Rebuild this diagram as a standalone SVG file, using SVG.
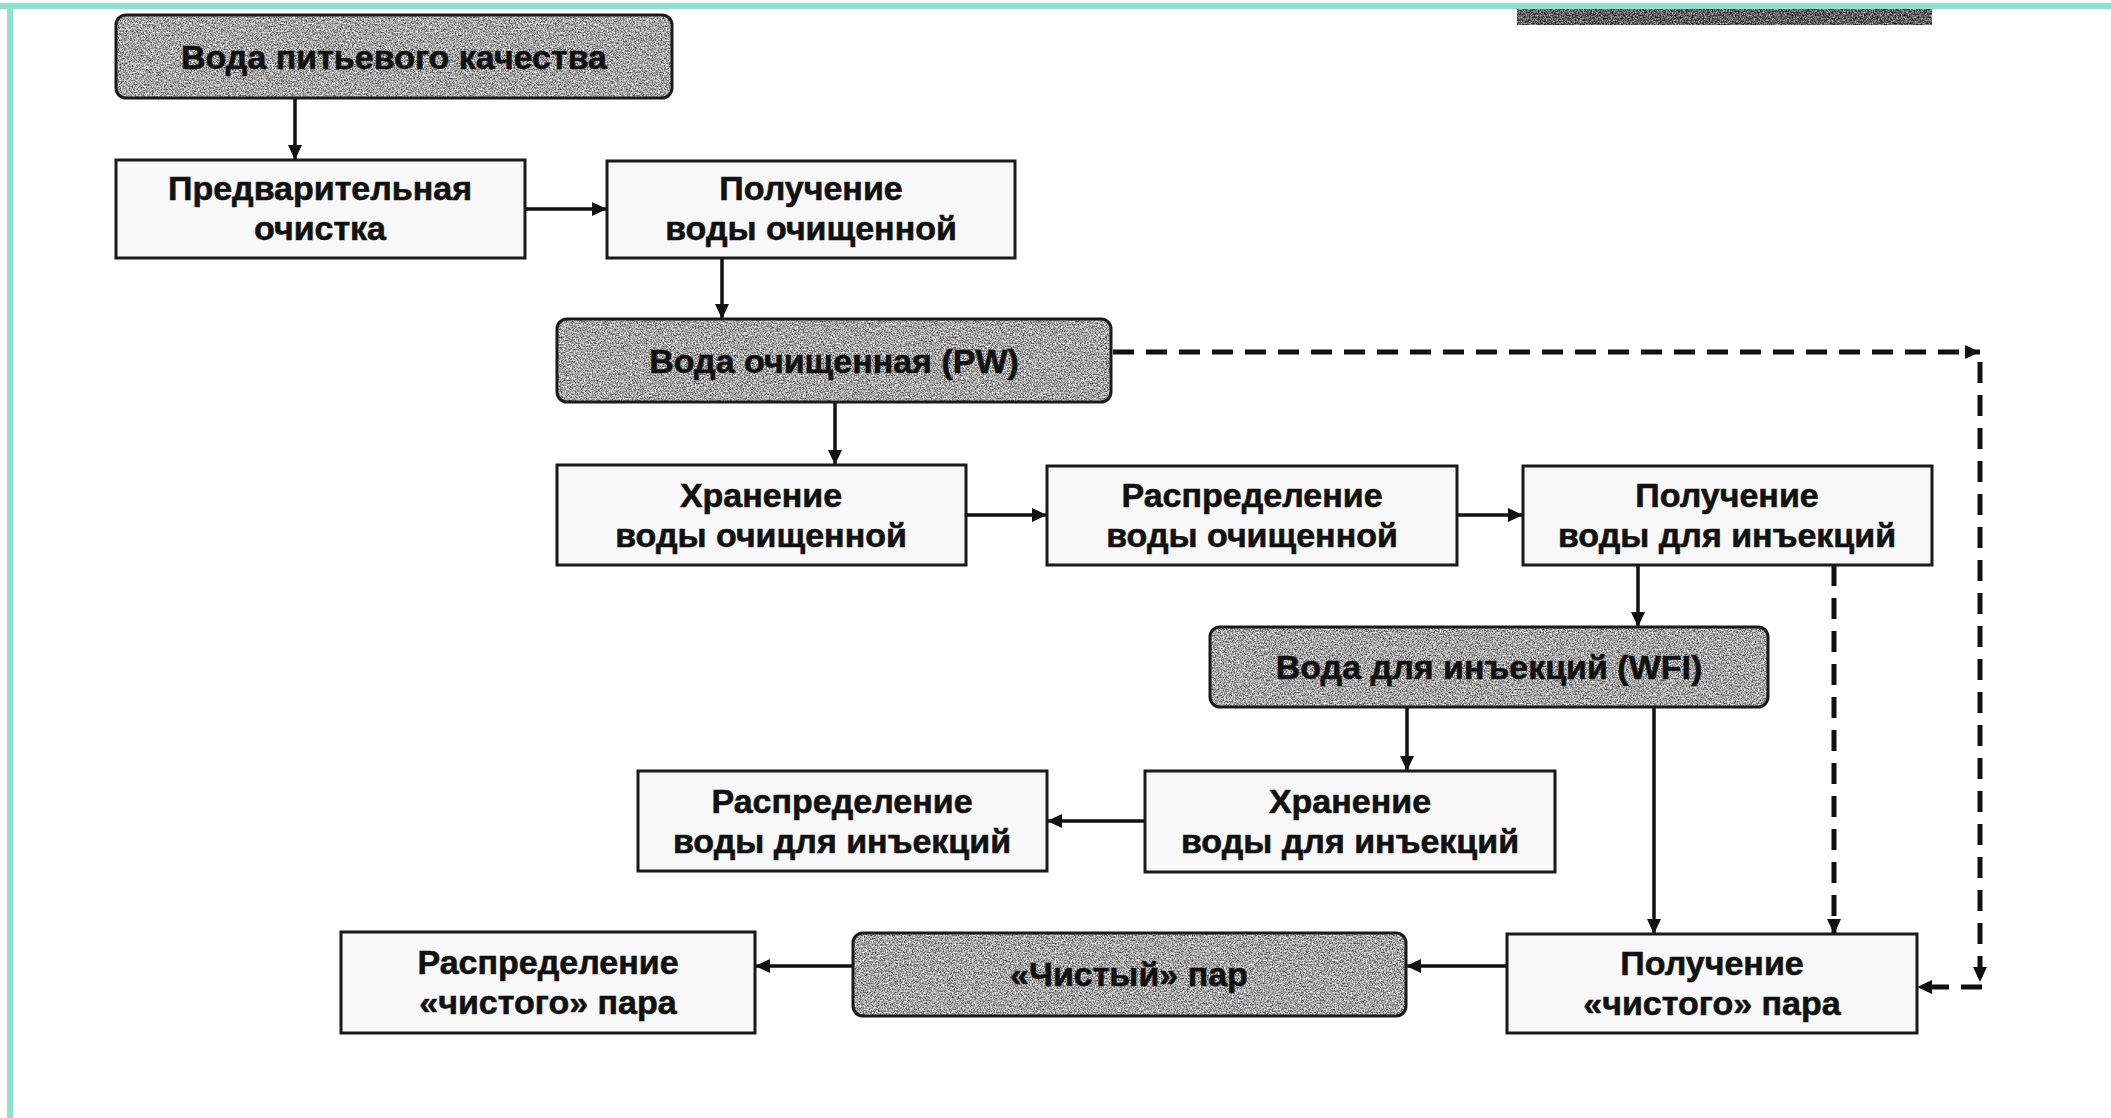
<svg xmlns="http://www.w3.org/2000/svg" width="2111" height="1118" viewBox="0 0 2111 1118">
<style>
.box{fill:#f8f8f8;stroke:#1a1a1a;stroke-width:3}
.shade{fill:#a6a6a6;stroke:none}
.shadeb{fill:none;stroke:#1a1a1a;stroke-width:3}
.t{font-family:"Liberation Sans",Arial,sans-serif;font-weight:bold;font-size:34px;fill:#111;stroke:#111;stroke-width:0.6;text-anchor:middle}
.c{fill:none;stroke:#111;stroke-width:3.5}
.d{fill:none;stroke:#111;stroke-width:5;stroke-dasharray:21 12}
</style>
<defs>
<filter id="grain" x="0" y="0" width="1" height="1" color-interpolation-filters="sRGB">
<feTurbulence type="fractalNoise" baseFrequency="0.65" numOctaves="3" seed="7" result="n"/>
<feColorMatrix in="n" type="matrix" values="1 0 0 0 0  1 0 0 0 0  1 0 0 0 0  0 0 0 0 1" result="g"/>
<feComposite in="SourceGraphic" in2="g" operator="arithmetic" k1="0" k2="1" k3="1.3" k4="-0.65" result="m"/>
<feComposite in="m" in2="SourceGraphic" operator="in"/>
</filter>
<marker id="ah" markerUnits="userSpaceOnUse" markerWidth="16" markerHeight="14" refX="15" refY="7" orient="auto">
<path d="M0,0 L15,7 L0,14 z" fill="#111"/>
</marker>
</defs>
<rect width="2111" height="1118" fill="#ffffff"/>
<rect x="0" y="3" width="2111" height="6" fill="#8fe0cc"/>
<rect x="7" y="3" width="6" height="1115" fill="#8fe0cc"/>
<rect x="1517" y="9" width="415" height="16" fill="#5e5e5e" filter="url(#grain)"/>

<g id="connectors">
<path class="c" d="M295,98 V160" marker-end="url(#ah)"/>
<path class="c" d="M525,209 H607" marker-end="url(#ah)"/>
<path class="c" d="M722,258 V319" marker-end="url(#ah)"/>
<path class="c" d="M835,402 V465" marker-end="url(#ah)"/>
<path class="c" d="M966,515 H1047" marker-end="url(#ah)"/>
<path class="c" d="M1457,515 H1523" marker-end="url(#ah)"/>
<path class="c" d="M1638,565 V627" marker-end="url(#ah)"/>
<path class="c" d="M1407,707 V771" marker-end="url(#ah)"/>
<path class="c" d="M1145,821 H1047" marker-end="url(#ah)"/>
<path class="c" d="M1654,707 V934" marker-end="url(#ah)"/>
<path class="c" d="M1507,966 H1406" marker-end="url(#ah)"/>
<path class="c" d="M853,966 H755" marker-end="url(#ah)"/>
<path class="d" d="M1113,352 H1980" marker-end="url(#ah)"/>
<path class="d" d="M1980,362 V982" marker-end="url(#ah)"/>
<path class="d" d="M1982,987 H1917" marker-end="url(#ah)"/>
<path class="d" d="M1834,565 V934" marker-end="url(#ah)"/>
</g>

<g id="n1">
<rect class="shade" x="116" y="15" width="556" height="83" rx="10" filter="url(#grain)"/>
<rect class="shadeb" x="116" y="15" width="556" height="83" rx="10"/>
<text class="t" x="394" y="69">Вода питьевого качества</text>
</g>
<g id="n2">
<rect class="box" x="116" y="160" width="409" height="98"/>
<text class="t" x="320" y="200">Предварительная</text>
<text class="t" x="320" y="240">очистка</text>
</g>
<g id="n3">
<rect class="box" x="607" y="161" width="408" height="97"/>
<text class="t" x="811" y="200">Получение</text>
<text class="t" x="811" y="240">воды очищенной</text>
</g>
<g id="n4">
<rect class="shade" x="557" y="319" width="554" height="83" rx="10" filter="url(#grain)"/>
<rect class="shadeb" x="557" y="319" width="554" height="83" rx="10"/>
<text class="t" x="834" y="373">Вода очищенная (PW)</text>
</g>
<g id="n5">
<rect class="box" x="557" y="465" width="409" height="100"/>
<text class="t" x="761" y="507">Хранение</text>
<text class="t" x="761" y="547">воды очищенной</text>
</g>
<g id="n6">
<rect class="box" x="1047" y="466" width="410" height="99"/>
<text class="t" x="1252" y="507">Распределение</text>
<text class="t" x="1252" y="547">воды очищенной</text>
</g>
<g id="n7">
<rect class="box" x="1523" y="466" width="409" height="99"/>
<text class="t" x="1727" y="507">Получение</text>
<text class="t" x="1727" y="547">воды для инъекций</text>
</g>
<g id="n8">
<rect class="shade" x="1210" y="627" width="558" height="80" rx="10" filter="url(#grain)"/>
<rect class="shadeb" x="1210" y="627" width="558" height="80" rx="10"/>
<text class="t" x="1489" y="679">Вода для инъекций (WFI)</text>
</g>
<g id="n9">
<rect class="box" x="1145" y="771" width="410" height="101"/>
<text class="t" x="1350" y="813">Хранение</text>
<text class="t" x="1350" y="853">воды для инъекций</text>
</g>
<g id="n10">
<rect class="box" x="638" y="771" width="409" height="100"/>
<text class="t" x="842" y="813">Распределение</text>
<text class="t" x="842" y="853">воды для инъекций</text>
</g>
<g id="n11">
<rect class="box" x="1507" y="934" width="410" height="99"/>
<text class="t" x="1712" y="975">Получение</text>
<text class="t" x="1712" y="1015">«чистого» пара</text>
</g>
<g id="n12">
<rect class="shade" x="853" y="933" width="553" height="83" rx="10" filter="url(#grain)"/>
<rect class="shadeb" x="853" y="933" width="553" height="83" rx="10"/>
<text class="t" x="1129" y="986">«Чистый» пар</text>
</g>
<g id="n13">
<rect class="box" x="341" y="932" width="414" height="101"/>
<text class="t" x="548" y="974">Распределение</text>
<text class="t" x="548" y="1014">«чистого» пара</text>
</g>
</svg>
